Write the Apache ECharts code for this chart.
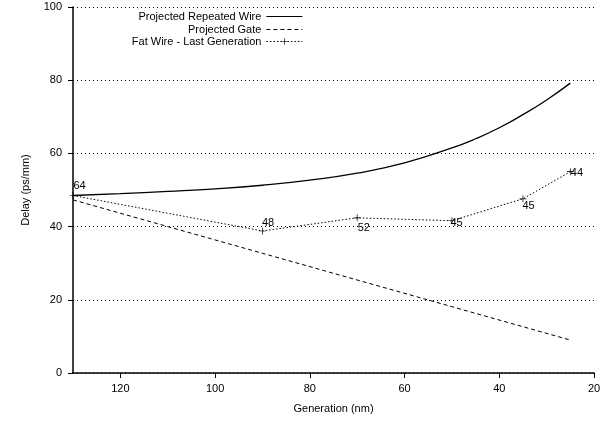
<!DOCTYPE html>
<html>
<head>
<meta charset="utf-8">
<script src="https://cdn.jsdelivr.net/npm/echarts@6/dist/echarts.min.js"></script>
<style>
  html, body { margin: 0; padding: 0; background: #fff; }
  #chart { width: 613px; height: 422px; }
</style>
</head>
<body>
<div id="chart"></div>
<script>
// generation (nm) -> delay (ps/mm)
const wireGen = [130, 120, 110, 100, 90, 80, 70, 60, 50, 45, 40, 35, 30, 25]
const wireDelay = [48.5, 49.0, 49.6, 50.3, 51.3, 52.7, 54.6, 57.4, 61.5, 64.0, 67.0, 70.6, 74.6, 79.2]

const gateGen = [130, 25]
const gateDelay = [47.3, 9.0]

const fatGen = [130, 90, 70, 50, 35, 25]
const fatDelay = [48.5, 38.8, 42.4, 41.6, 47.6, 55.0]
const fatLabels = ['64', '48', '52', '45', '45', '44']
// label offsets inside symbol box
const fatLabelPos = [[4, -12], [3, -10], [4, 8], [2, 0], [3, 5], [4, -1]]

const font = 'Liberation Sans, Arial, Helvetica, sans-serif'
const black = '#000'

const chart = echarts.init(document.getElementById('chart'))

const plusPath = 'path://M4.5,0h1v10h-1zM0,4.5h10v1h-10z'

function legendRow(name, top, hideSymbol) {
  return {
    data: [hideSymbol
      ? { name: name, itemStyle: { color: 'rgba(0,0,0,0)', borderWidth: 0 } }
      : { name: name }],
    right: 310,
    top: top,
    align: 'right',
    orient: 'vertical',
    itemWidth: 36,
    itemHeight: 8,
    itemGap: 0,
    padding: 0,
    selectedMode: false,
    lineStyle: { width: 1.2 },
    textStyle: { fontFamily: font, fontSize: 11, color: black }
  }
}

chart.setOption({
  animation: false,
  backgroundColor: '#fff',
  legend: [
    legendRow('Projected Repeated Wire', 11, true),
    legendRow('Projected Gate', 24, true),
    legendRow('Fat Wire - Last Generation', 36, false)
  ],
  grid: { left: 73, right: 19, top: 7, bottom: 49 },
  xAxis: {
    type: 'value',
    inverse: true,
    min: 20,
    max: 130,
    interval: 20,
    name: 'Generation (nm)',
    nameLocation: 'middle',
    nameGap: 30,
    nameTextStyle: { fontFamily: font, fontSize: 11, color: black },
    axisLine: { show: true, onZero: false, lineStyle: { color: black, width: 1.5 } },
    axisTick: { show: true, length: 5, lineStyle: { color: black } },
    axisLabel: { fontFamily: font, fontSize: 11, color: black, margin: 10, showMaxLabel: false },
    splitLine: { show: false }
  },
  yAxis: {
    type: 'value',
    min: 0,
    max: 100,
    interval: 20,
    name: 'Delay (ps/mm)',
    nameLocation: 'middle',
    nameGap: 42,
    nameRotate: 90,
    nameTextStyle: { fontFamily: font, fontSize: 11, color: black },
    axisLine: { show: true, lineStyle: { color: black, width: 1.5 } },
    axisTick: { show: true, length: 5, lineStyle: { color: black } },
    axisLabel: { fontFamily: font, fontSize: 11, color: black, margin: 11 },
    splitLine: { show: true, lineStyle: { color: black, width: 1, type: [1, 3] } }
  },
  series: [
    {
      name: 'Projected Repeated Wire',
      type: 'line',
      smooth: true,
      symbol: 'none',
      data: wireGen.map((g, i) => [g, wireDelay[i]]),
      lineStyle: { color: black, width: 1.3 },
      itemStyle: { color: black }
    },
    {
      name: 'Projected Gate',
      type: 'line',
      symbol: 'none',
      data: gateGen.map((g, i) => [g, gateDelay[i]]),
      lineStyle: { color: black, width: 1, type: [4, 3] },
      itemStyle: { color: black }
    },
    {
      name: 'Fat Wire - Last Generation',
      type: 'line',
      symbol: plusPath,
      symbolSize: 7,
      data: fatGen.map((g, i) => ({
        value: [g, fatDelay[i]],
        label: {
          show: true,
          formatter: fatLabels[i],
          position: fatLabelPos[i],
          fontFamily: font,
          fontSize: 11,
          color: black
        }
      })),
      lineStyle: { color: black, width: 1, type: [1.5, 2] },
      itemStyle: { color: black }
    }
  ]
})
</script>
</body>
</html>
